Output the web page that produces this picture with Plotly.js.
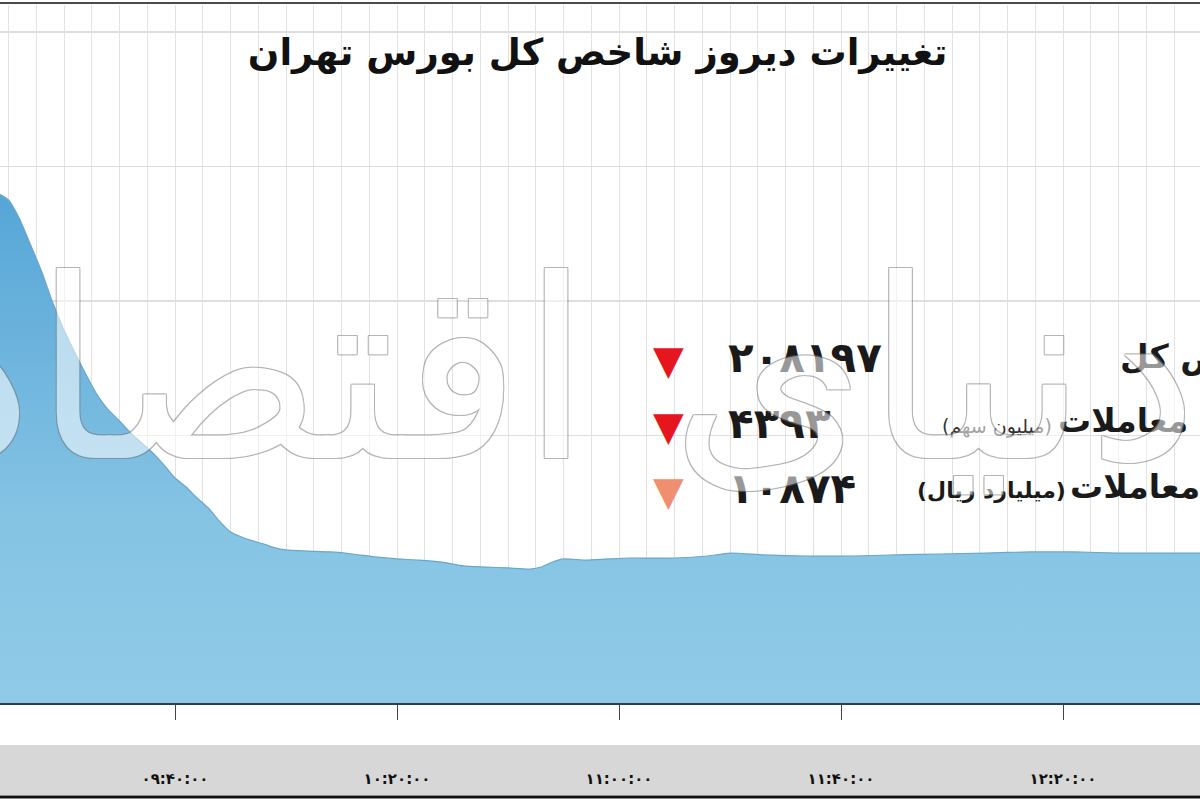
<!DOCTYPE html>
<html>
<head>
<meta charset="utf-8">
<script src="https://cdn.plot.ly/plotly-3.0.1.min.js"></script>
<style>html,body{margin:0;padding:0;background:#fff;}#chart{width:1200px;height:800px;}</style>
</head>
<body>
<div id="chart"></div>
<script>
// ---- data ----
const chartTitle = "تغییرات دیروز شاخص کل بورس تهران";
const tradeDate = "2024-01-01";
const times = ["09:08","09:10","09:12","09:14","09:16","09:18","09:20","09:22","09:24","09:26",
  "09:28","09:30","09:32","09:34","09:36","09:38","09:40","09:42","09:44","09:46",
  "09:48","09:50","09:52","09:54","09:56","09:58","10:00","10:04","10:08","10:12",
  "10:16","10:20","10:24","10:28","10:32","10:36","10:40","10:44","10:46","10:48",
  "10:50","10:54","10:58","11:02","11:10","11:16","11:20","11:26","11:34","11:42",
  "11:50","11:58","12:06","12:14","12:22","12:30","12:38","12:46"];
const indexValues = [210874,210822,210681,210487,210287,210056,209855,209684,209521,209372,
  209261,209179,209090,209015,208941,208852,208755,208688,208606,208532,
  208435,208354,208316,208287,208264,208235,208220,208212,208205,208190,
  208168,208153,208145,208130,208101,208093,208086,208078,208093,208130,
  208153,208145,208153,208160,208160,208175,208197,208183,208175,208175,
  208183,208190,208197,208205,208205,208197,208197,208197];
const tickTimes = ["09:40","10:20","11:00","11:40","12:20"];
const tickLabels = ["۰۹:۴۰:۰۰","۱۰:۲۰:۰۰","۱۱:۰۰:۰۰","۱۱:۴۰:۰۰","۱۲:۲۰:۰۰"];
const statNames = ["شاخص کل","حجم معاملات","ارزش معاملات"];
const statUnits = ["","(میلیون سهم)","(میلیارد ریال)"];
const statValues = ["۲۰۸۱۹۷","۴۳۹۳","۱۰۸۷۴"];
const statColors = ["#e5161d","#e5161d","#f08f70"];
const watermark = "دنیای اقتصاد";

// ---- helpers ----
const toDate = t => tradeDate + " " + (t.length === 5 ? t + ":00" : t);
const W = 1200, H = 800, T = 5, B = 97;
const plotH = H - T - B;
const px = x => x / W;                 // paper x from pixel
const py = y => (H - B - y) / plotH;   // paper y from pixel
const RLM = "\u200F";

const trace = {
  type: "scatter",
  mode: "lines",
  x: times.map(toDate),
  y: indexValues,
  fill: "tozeroy",
  line: {color: "#6aa6cb", width: 1.2, shape: "spline", smoothing: 0.6},
  fillgradient: {type: "vertical", start: 207082, stop: 210900,
    colorscale: [[0, "#8fcbe8"], [0.35, "#86c4e4"], [1, "#55a5d7"]]},
  hoverinfo: "skip"
};

const annotations = [];
const rowY = [357, 423, 488];
for (let i = 0; i < statNames.length; i++) {
  annotations.push({xref: "paper", yref: "paper", x: px(668), y: py(rowY[i] + 3),
    text: "▼", showarrow: false, xanchor: "center", yanchor: "middle",
    font: {family: "DejaVu Sans", size: 40, color: statColors[i]}});
  annotations.push({xref: "paper", yref: "paper", x: px(726), y: py(rowY[i]),
    text: statValues[i], showarrow: false, xanchor: "left", yanchor: "middle",
    font: {family: "DejaVu Sans", size: 42, color: "#1a1a1a", weight: 700}});
}
// labels
annotations.push({xref: "paper", yref: "paper", x: px(1118), y: py(356),
  text: RLM + statNames[0] + RLM, showarrow: false, xanchor: "left", yanchor: "middle",
  font: {family: "DejaVu Sans", size: 33, color: "#1a1a1a", weight: 700}});
annotations.push({xref: "paper", yref: "paper", x: px(1056), y: py(420),
  text: RLM + statNames[1] + RLM, showarrow: false, xanchor: "left", yanchor: "middle",
  font: {family: "DejaVu Sans", size: 33, color: "#1a1a1a", weight: 700}});
annotations.push({xref: "paper", yref: "paper", x: px(1054), y: py(426),
  text: RLM + statUnits[1] + RLM, showarrow: false, xanchor: "right", yanchor: "middle",
  font: {family: "DejaVu Sans", size: 19, color: "#333"}});
annotations.push({xref: "paper", yref: "paper", x: px(1068), y: py(486),
  text: RLM + statNames[2] + RLM, showarrow: false, xanchor: "left", yanchor: "middle",
  font: {family: "DejaVu Sans", size: 33, color: "#1a1a1a", weight: 700}});
annotations.push({xref: "paper", yref: "paper", x: px(1068), y: py(491),
  text: RLM + statUnits[2] + RLM, showarrow: false, xanchor: "right", yanchor: "middle",
  font: {family: "DejaVu Sans", size: 22, color: "#1a1a1a", weight: 700}});
// watermark (white fill, thin grey outline, whole group translucent)
annotations.push({xref: "paper", yref: "paper", x: px(560), y: py(372),
  text: watermark, showarrow: false, xanchor: "center", yanchor: "middle",
  opacity: 0.55,
  font: {family: "DejaVu Sans", size: 250, color: "#ffffff",
    shadow: "1px 1px 0 #777, -1px -1px 0 #777, 1px -1px 0 #777, -1px 1px 0 #777"}});

const shapes = [
  {type: "rect", xref: "paper", yref: "paper", x0: 0, x1: 1, y0: py(795), y1: py(745),
    fillcolor: "#d7d7d7", line: {width: 0}, layer: "below"},
  {type: "line", xref: "paper", yref: "paper", x0: 0, x1: 1, y0: py(797), y1: py(797),
    line: {color: "#111", width: 3}},
  {type: "line", xref: "paper", yref: "paper", x0: 0, x1: 1, y0: py(3), y1: py(3),
    line: {color: "#4a4a4a", width: 2}}
];

const layout = {
  width: W, height: H,
  margin: {l: 0, r: 0, t: T, b: B, pad: 0},
  paper_bgcolor: "#ffffff",
  plot_bgcolor: "#ffffff",
  showlegend: false,
  title: {text: "<b>" + chartTitle + "</b>", x: 0.498, xanchor: "center",
    y: 1 - 52 / H, yanchor: "middle", yref: "container",
    font: {family: "DejaVu Sans", size: 37, color: "#111"}},
  xaxis: {
    type: "date",
    range: [toDate("09:08:28"), toDate("12:44:41")],
    tickmode: "array",
    tickvals: tickTimes.map(toDate),
    ticktext: tickLabels,
    showgrid: true, gridcolor: "#e2e2e2", gridwidth: 1,
    minor: {dtick: 300000, tick0: toDate("09:40"), showgrid: true, gridcolor: "#e2e2e2", gridwidth: 1, ticks: ""},
    showline: true, linecolor: "#2c3e48", linewidth: 2,
    ticks: "outside", ticklen: 15, tickcolor: "#444", tickwidth: 1,
    ticklabelstandoff: 46,
    tickfont: {family: "DejaVu Sans", size: 15, color: "#111", weight: 700},
    zeroline: false, fixedrange: true
  },
  yaxis: {
    range: [207082, 212272],
    tickmode: "linear", tick0: 208071, dtick: 1000,
    showticklabels: false, ticks: "",
    showgrid: true, gridcolor: "#dedede", gridwidth: 1.5,
    zeroline: false, showline: false, fixedrange: true
  },
  shapes: shapes,
  annotations: annotations
};

Plotly.newPlot("chart", [trace], layout, {displayModeBar: false, staticPlot: true});
</script>
</body>
</html>
